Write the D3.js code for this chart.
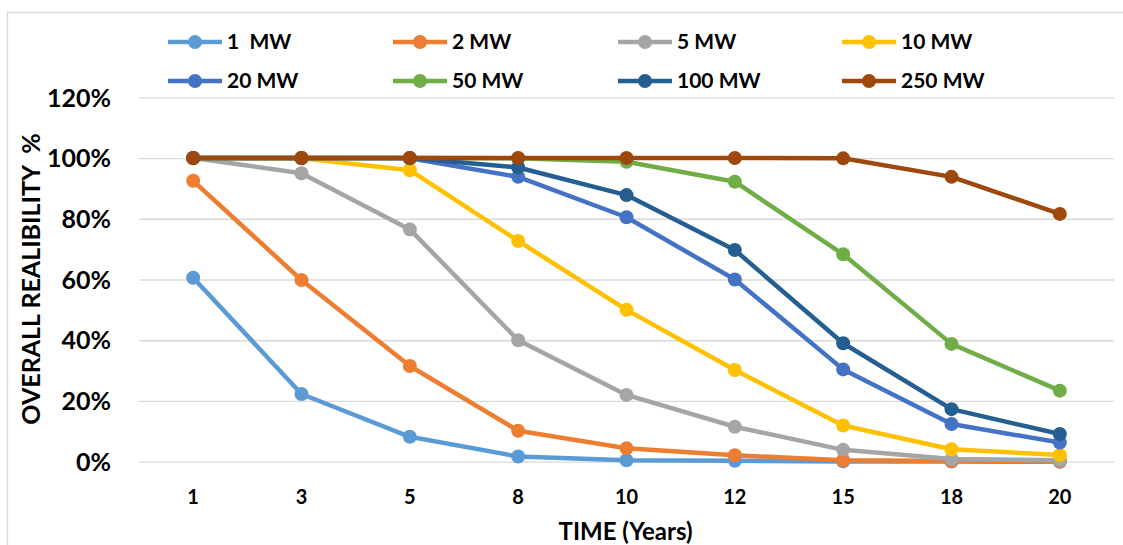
<!DOCTYPE html>
<html>
<head>
<meta charset="utf-8">
<script src="https://cdn.jsdelivr.net/npm/d3@7"></script>
<style>
  html, body { margin: 0; padding: 0; background: #fff; }
  svg { display: block; }
  text { font-family: Lato, "Open Sans", sans-serif; font-weight: 700; fill: #000; }
</style>
</head>
<body>
<svg id="chart" width="1123" height="545"></svg>
<script>
const categories = ["1", "3", "5", "8", "10", "12", "15", "18", "20"];
const seriesNames = ["1\u00A0 MW", "2 MW", "5 MW", "10 MW", "20 MW", "50 MW", "100 MW", "250 MW"];
const seriesColors = ["#5B9BD5", "#ED7D31", "#A5A5A5", "#FFC000", "#4472C4", "#70AD47", "#255E91", "#9E480E"];
const s1MW   = [60.6, 22.3, 8.2, 1.7, 0.5, 0.3, 0.1, 0.05, 0.0];
const s2MW   = [92.5, 59.8, 31.5, 10.2, 4.4, 2.1, 0.5, 0.2, 0.1];
const s5MW   = [100, 95.0, 76.5, 40.0, 22.0, 11.5, 3.9, 0.9, 0.5];
const s10MW  = [100, 99.9, 96.0, 72.7, 50.0, 30.2, 11.9, 4.1, 2.2];
const s20MW  = [100, 100, 99.9, 93.8, 80.5, 60.0, 30.4, 12.4, 6.3];
const s50MW  = [100, 100, 100, 99.9, 98.8, 92.2, 68.3, 38.8, 23.4];
const s100MW = [100, 100, 100, 96.9, 87.8, 69.7, 39.0, 17.3, 9.1];
const s250MW = [100, 100, 100, 100, 100, 100, 99.9, 93.8, 81.6];
const yTicks = [0, 20, 40, 60, 80, 100, 120];
const yTickLabels = ["0%", "20%", "40%", "60%", "80%", "100%", "120%"];
const xTitle = "TIME (Years)";
const yTitle = "OVERALL REALIBILITY \u00A0%";

const seriesValues = [s1MW, s2MW, s5MW, s10MW, s20MW, s50MW, s100MW, s250MW];
const series = seriesNames.map((name, i) => ({ name, color: seriesColors[i], values: seriesValues[i] }));

const svg = d3.select("#chart");

// chart area border (Excel chart frame)
svg.append("rect")
  .attr("x", 7.5).attr("y", 12.5)
  .attr("width", 1130).attr("height", 560)
  .attr("fill", "none").attr("stroke", "#d9d9d9").attr("stroke-width", 1.3);

const x = d3.scaleBand().domain(categories).range([139, 1114]).padding(0);
const y = d3.scaleLinear().domain([0, 120]).range([461.7, 97.3]);
const cx = c => x(c) + x.bandwidth() / 2;

// gridlines + y labels
const yAxis = d3.axisLeft(y).tickValues(yTicks).tickSize(-(1114 - 139)).tickFormat((d, i) => yTickLabels[i]).tickPadding(28);
const gy = svg.append("g").attr("transform", "translate(139,0)").call(yAxis);
gy.select(".domain").remove();
gy.selectAll(".tick line").attr("stroke", "#d9d9d9").attr("stroke-width", 1.3);
gy.selectAll(".tick text").attr("font-size", 25).attr("dy", "0.35em");

// x axis labels
const xAxis = d3.axisBottom(x).tickSize(0).tickPadding(28);
const gx = svg.append("g").attr("transform", "translate(0,461.7)").call(xAxis);
gx.select(".domain").remove();
gx.selectAll(".tick text").attr("font-size", 20);

// titles
svg.append("text")
  .attr("x", 625.5).attr("y", 540)
  .attr("text-anchor", "middle").attr("font-size", 24)
  .text(xTitle);
svg.append("text")
  .attr("transform", "translate(40,279) rotate(-90)")
  .attr("text-anchor", "middle").attr("font-size", 25)
  .text(yTitle);

// lines
const line = d3.line().x((d, i) => cx(categories[i])).y(d => y(d));
const gs = svg.append("g").selectAll("g").data(series).join("g");
gs.append("path")
  .attr("d", d => line(d.values))
  .attr("fill", "none").attr("stroke", d => d.color)
  .attr("stroke-width", 4.5).attr("stroke-linejoin", "round");
gs.selectAll("circle").data(d => d.values.map(v => ({ v, color: d.color })))
  .join("circle")
  .attr("cx", (d, i) => cx(categories[i]))
  .attr("cy", d => y(d.v))
  .attr("r", 7)
  .attr("fill", d => d.color);

// legend
const colX = [168, 393, 618, 842];
const rowY = [42, 81];
const lg = svg.append("g").selectAll("g").data(series).join("g")
  .attr("transform", (d, i) => `translate(${colX[i % 4]},${rowY[Math.floor(i / 4)]})`);
lg.append("line").attr("x1", 0).attr("x2", 54).attr("y1", 0).attr("y2", 0)
  .attr("stroke", d => d.color).attr("stroke-width", 4.5);
lg.append("circle").attr("cx", 27).attr("cy", 0).attr("r", 7).attr("fill", d => d.color);
lg.append("text").attr("x", 59).attr("y", 0).attr("dy", "0.35em")
  .attr("font-size", 21)
  .text(d => d.name);
</script>
</body>
</html>
